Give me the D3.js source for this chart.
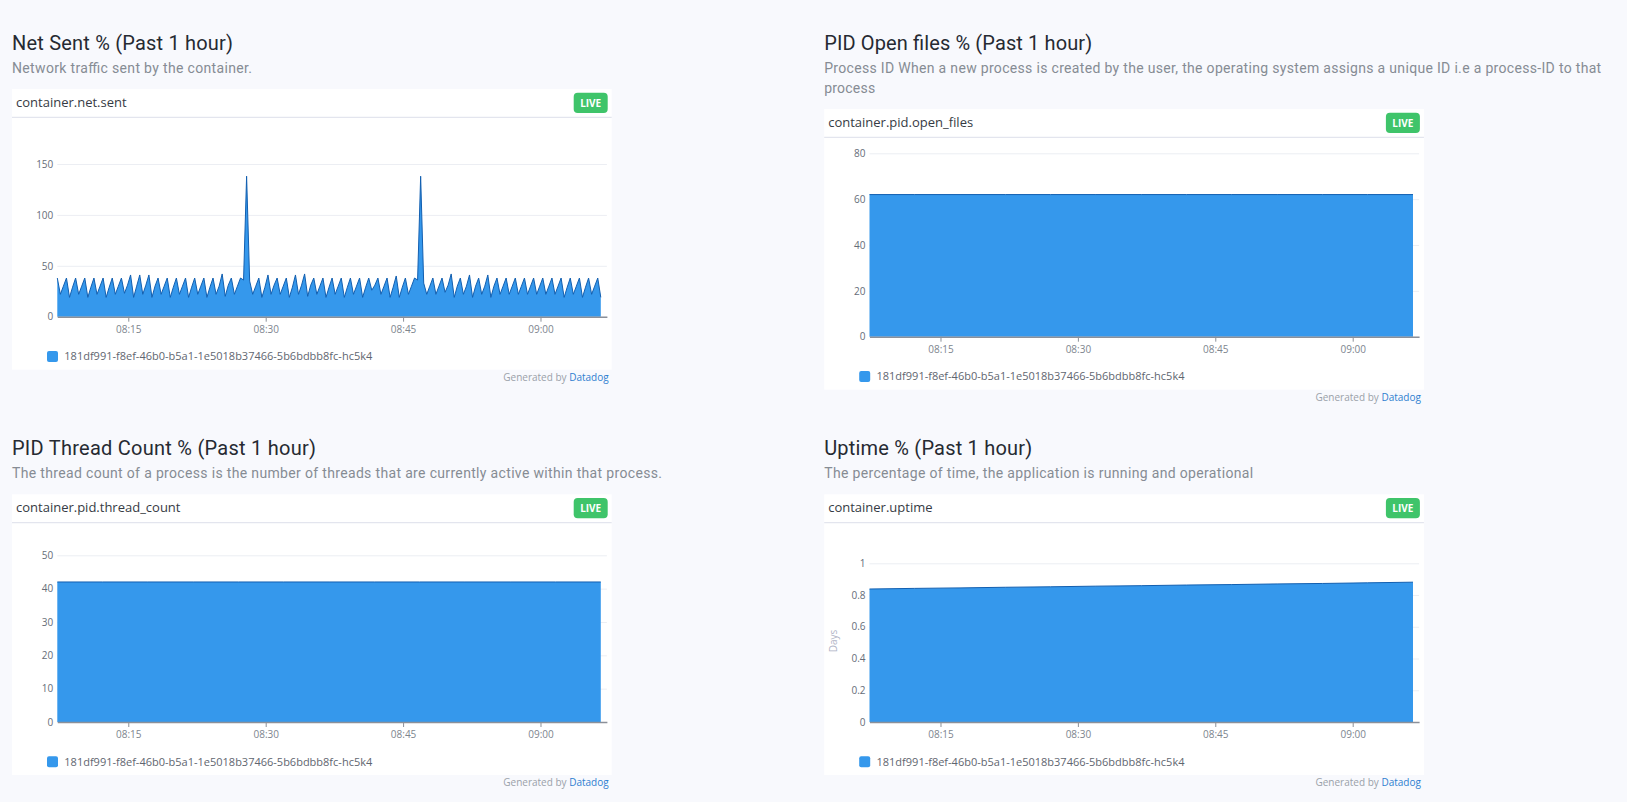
<!DOCTYPE html>
<html>
<head>
<meta charset="utf-8">
<script src="https://cdnjs.cloudflare.com/ajax/libs/d3/7.8.5/d3.min.js"></script>
<style>
html, body { margin: 0; padding: 0; background: #f8f9fd; overflow: hidden; }
svg { display: block; }
.title { font-family: Roboto, sans-serif; font-size: 20px; fill: #262a32; }
.desc { font-family: Roboto, sans-serif; font-size: 14px; fill: #868c94; }
.metric { font-family: "Open Sans", sans-serif; font-size: 13px; fill: #363b44; }
.live { font-family: "Open Sans", sans-serif; font-size: 10px; font-weight: 700; fill: #fff; }
.legend { font-family: "Open Sans", sans-serif; font-size: 11px; fill: #5f6670; }
.credit { font-family: "Open Sans", sans-serif; font-size: 10px; fill: #9aa1a9; }
.credit tspan { fill: #2f7fd0; }
.days { font-family: "Open Sans", sans-serif; font-size: 10px; fill: #b0b4c6; }
.xaxis text { font-family: "Open Sans", sans-serif; font-size: 10px; fill: #7d858e; }
.xaxis path, .xaxis line { stroke: #8b9099; }
.xaxis path { stroke-width: 1.5; }
.yaxis text { font-family: "Open Sans", sans-serif; font-size: 10px; fill: #666d78; }
.yaxis line { stroke: #eceef3; }
.yaxis path { display: none; }
</style>
</head>
<body>
<svg id="page" width="1627" height="802"></svg>
<script>
var legendLabel = '181df991-f8ef-46b0-b5a1-1e5018b37466-5b6bdbb8fc-hc5k4';
var xTickLabels = ['08:15', '08:30', '08:45', '09:00'];

var netSentTicks = [0, 50, 100, 150];
var openFilesTicks = [0, 20, 40, 60, 80];
var threadCountTicks = [0, 10, 20, 30, 40, 50];
var uptimeTicks = [0, 0.2, 0.4, 0.6, 0.8, 1];

/* one sample every 20 seconds, three a minute */
var netSentValues = [
    38,22,30, 38,19,29, 38,22,30, 38,19,29, 38,22,30, 38,19,29, 38,22,30, 38,23,31, 41,19,30, 41,22,31,
    41,19,30, 38,22,30, 38,19,29, 38,22,30, 38,19,29, 38,22,30, 38,19,29, 38,22,30, 42,20,31, 38,22,30,
    38,36,138, 35,22,30, 38,19,29, 41,22,31, 38,22,30, 38,19,29, 41,22,31, 42,20,31, 38,22,30, 38,19,29,
    38,22,30, 38,19,29, 38,22,30, 38,19,29, 38,26,31, 38,22,30, 38,19,29, 40,19,29, 38,22,30, 38,36,138,
    33,22,30, 38,22,30, 38,24,31, 42,19,30, 38,22,30, 41,19,30, 38,22,30, 41,19,30, 38,22,30, 38,22,30,
    38,22,30, 38,22,30, 38,22,30, 38,22,30, 38,22,30, 38,19,29, 38,22,30, 38,19,29, 38,22,30, 38,19
];
var openFilesValues = [62, 62, 62, 62, 62, 62, 62, 62, 62, 62, 62, 62, 62];
var threadCountValues = [42, 42, 42, 42, 42, 42, 42, 42, 42, 42, 42, 42, 42];
var uptimeValues = [0.838, 0.842, 0.845, 0.849, 0.852, 0.856, 0.859, 0.863, 0.866, 0.870, 0.873, 0.877, 0.881];

var parseClock = d3.timeParse('%H:%M:%S');
var startTime = parseClock('08:07:15');
var axisEnd = parseClock('09:07:15');
var xTicks = xTickLabels.map(function(d) { return parseClock(d + ':00'); });

var svg = d3.select('#page');

function drawPanel(p)
{
    var g = svg.append('g');
    var cardW = 599.7;
    var cardH = 280.7;
    var axisY = p.top + 227.7;
    var left = p.x + 45.3;
    var right = left + 549.6;

    /* heading and description */
    g.append('text').attr('class', 'title').attr('x', p.x).attr('y', p.titleY)
        .attr('textLength', p.titleW).text(p.title);
    p.desc.forEach(function(line, i) {
        g.append('text').attr('class', 'desc').attr('x', p.x).attr('y', p.titleY + 23 + i * 20)
            .attr('textLength', p.descW[i]).text(line);
    });

    /* card */
    g.append('rect').attr('x', p.x).attr('y', p.top).attr('width', cardW).attr('height', cardH).attr('fill', '#fff');
    g.append('line').attr('x1', p.x).attr('x2', p.x + cardW).attr('y1', p.top + 28.3).attr('y2', p.top + 28.3)
        .attr('stroke', '#e3e5ee').attr('stroke-width', 1.2);
    g.append('text').attr('class', 'metric').attr('x', p.x + 4).attr('y', p.top + 17.7).text(p.metric);

    g.append('rect').attr('x', p.x + cardW - 38).attr('y', p.top + 3.7).attr('width', 34).attr('height', 20.3)
        .attr('rx', 4).attr('fill', '#3fc46a');
    g.append('text').attr('class', 'live').attr('x', p.x + cardW - 21).attr('y', p.top + 17.5)
        .attr('text-anchor', 'middle').text('LIVE');

    var x = d3.scaleTime().domain([startTime, axisEnd]).range([left, right]);
    var y = d3.scaleLinear().domain([0, p.yMax]).range([axisY, p.yTop]);

    g.append('g').attr('class', 'yaxis').attr('transform', 'translate(' + left + ',0)')
        .call(d3.axisLeft(y).tickValues(p.ticks).tickSizeInner(-(right - left)).tickSizeOuter(0)
            .tickPadding(4).tickFormat(d3.format('~g')));

    var times = p.values.map(function(d, i) {
        return d3.timeSecond.offset(startTime, i * p.step);
    });
    var area = d3.area()
        .x(function(d, i) { return x(times[i]); })
        .y0(axisY)
        .y1(function(d) { return y(d); });
    var line = d3.line()
        .x(function(d, i) { return x(times[i]); })
        .y(function(d) { return y(d); });

    g.append('path').datum(p.values).attr('d', area).attr('fill', '#3598ec');
    g.append('path').datum(p.values).attr('d', line).attr('fill', 'none')
        .attr('stroke', '#125fb0').attr('stroke-width', 1);

    g.append('g').attr('class', 'xaxis').attr('transform', 'translate(0,' + axisY + ')')
        .call(d3.axisBottom(x).tickValues(xTicks).tickSizeInner(5).tickSizeOuter(0)
            .tickPadding(4).tickFormat(d3.timeFormat('%H:%M')));

    if (p.unit) {
        g.append('text').attr('class', 'days').attr('text-anchor', 'middle')
            .attr('transform', 'translate(' + (p.x + 13) + ',' + (axisY - 81) + ') rotate(-90)').text(p.unit);
    }

    /* legend and credit */
    g.append('rect').attr('x', p.x + 35).attr('y', axisY + 34.3).attr('width', 11).attr('height', 11)
        .attr('rx', 2).attr('fill', '#3598ec');
    g.append('text').attr('class', 'legend').attr('x', p.x + 52.3).attr('y', axisY + 43.5).text(legendLabel);

    var credit = g.append('text').attr('class', 'credit').attr('text-anchor', 'end')
        .attr('x', p.x + cardW - 3).attr('y', p.top + cardH + 11);
    credit.append('tspan').attr('style', 'fill:#9aa1a9').text('Generated by ');
    credit.append('tspan').text('Datadog');
}

var flatStep = 3560 / 12;

drawPanel({
    x: 12, top: 89, titleY: 50, yTop: 164, yMax: 150,
    title: 'Net Sent % (Past 1 hour)', titleW: 221,
    desc: ['Network traffic sent by the container.'], descW: [240],
    metric: 'container.net.sent', ticks: netSentTicks, values: netSentValues, step: 20
});
drawPanel({
    x: 824.2, top: 109, titleY: 50, yTop: 153.3, yMax: 80,
    title: 'PID Open files % (Past 1 hour)', titleW: 268,
    desc: ['Process ID When a new process is created by the user, the operating system assigns a unique ID i.e a process-ID to that', 'process'],
    descW: [777, 51],
    metric: 'container.pid.open_files', ticks: openFilesTicks, values: openFilesValues, step: flatStep
});
drawPanel({
    x: 12, top: 494.3, titleY: 455, yTop: 555.3, yMax: 50,
    title: 'PID Thread Count % (Past 1 hour)', titleW: 304,
    desc: ['The thread count of a process is the number of threads that are currently active within that process.'], descW: [650],
    metric: 'container.pid.thread_count', ticks: threadCountTicks, values: threadCountValues, step: flatStep
});
drawPanel({
    x: 824.2, top: 494.3, titleY: 455, yTop: 563.3, yMax: 1,
    title: 'Uptime % (Past 1 hour)', titleW: 208,
    desc: ['The percentage of time, the application is running and operational'], descW: [429],
    metric: 'container.uptime', ticks: uptimeTicks, values: uptimeValues, step: flatStep, unit: 'Days'
});
</script>
</body>
</html>
